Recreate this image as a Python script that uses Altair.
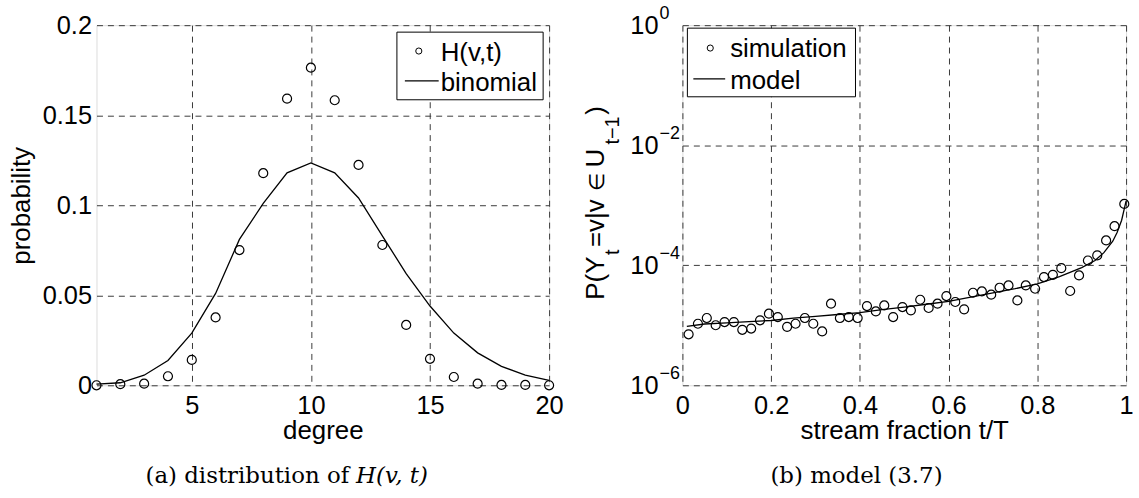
import altair as alt
import pandas as pd

FONT = "Liberation Sans"
SERIF = "DejaVu Serif"

# ---------- panel (a) data ----------
degree = [1, 2, 3, 4, 5, 6, 7, 8, 9, 10, 11, 12, 13, 14, 15, 16, 17, 18, 19, 20]
h_vt = [0.0, 0.0006, 0.0009, 0.0050, 0.0141, 0.0377, 0.0751, 0.1178, 0.1592, 0.1764,
        0.1583, 0.1224, 0.0779, 0.0335, 0.0147, 0.0046, 0.0009, 0.0002, 0.0002, 0.0]
binomial = [0.0006, 0.0014, 0.0056, 0.0138, 0.0290, 0.0510, 0.0810, 0.1010, 0.1180, 0.1235,
            0.1180, 0.1040, 0.0830, 0.0620, 0.0440, 0.0290, 0.0180, 0.0105, 0.0056, 0.0027]
a_xticks = [5, 10, 15, 20]
a_yticks = [0, 0.05, 0.1, 0.15, 0.2]
a_legend = ["H(v,t)", "binomial"]
a_caption = ["(a) distribution of", "H(v, t)"]

# ---------- panel (b) data ----------
sim_x = [0.014, 0.035, 0.055, 0.075, 0.095, 0.116, 0.135, 0.155, 0.175, 0.195,
         0.215, 0.236, 0.255, 0.276, 0.295, 0.315, 0.335, 0.355, 0.375, 0.395,
         0.416, 0.436, 0.455, 0.475, 0.496, 0.515, 0.536, 0.555, 0.575, 0.595,
         0.615, 0.635, 0.655, 0.675, 0.696, 0.715, 0.735, 0.755, 0.774, 0.795,
         0.815, 0.835, 0.854, 0.874, 0.894, 0.914, 0.935, 0.955, 0.974, 0.996]
sim_y = [7.06e-6, 1.06e-5, 1.32e-5, 1.00e-5, 1.13e-5, 1.13e-5, 8.4e-6, 8.8e-6, 1.21e-5, 1.56e-5,
         1.37e-5, 9.4e-6, 1.06e-5, 1.32e-5, 1.06e-5, 7.9e-6, 2.29e-5, 1.32e-5, 1.37e-5, 1.32e-5,
         2.09e-5, 1.70e-5, 2.14e-5, 1.37e-5, 2.01e-5, 1.77e-5, 2.66e-5, 1.94e-5, 2.29e-5, 3.06e-5,
         2.44e-5, 1.84e-5, 3.48e-5, 3.66e-5, 3.23e-5, 4.22e-5, 4.61e-5, 2.59e-5, 4.61e-5, 4.06e-5,
         6.35e-5, 6.93e-5, 8.95e-5, 3.72e-5, 6.76e-5, 1.20e-4, 1.46e-4, 2.59e-4, 4.48e-4, 1.05e-3]
model_x = [0.01, 0.05, 0.1, 0.15, 0.2, 0.25, 0.3, 0.35, 0.4, 0.45, 0.5, 0.55, 0.6,
           0.65, 0.7, 0.75, 0.8, 0.85, 0.9, 0.93, 0.95, 0.97, 0.98, 0.99, 1.0]
model_y = [9.55e-6, 1.05e-5, 1.10e-5, 1.15e-5, 1.20e-5, 1.32e-5, 1.41e-5, 1.51e-5, 1.62e-5,
           1.82e-5, 2.00e-5, 2.24e-5, 2.51e-5, 2.95e-5, 3.47e-5, 4.07e-5, 4.90e-5, 6.46e-5,
           9.12e-5, 1.20e-4, 1.62e-4, 2.51e-4, 3.55e-4, 5.62e-4, 1.17e-3]
b_xticks = [0, 0.2, 0.4, 0.6, 0.8, 1]
b_yticks = [1, 1e-2, 1e-4, 1e-6]
b_yexp = ["0", "\u22122", "\u22124", "\u22126"]
b_legend = ["simulation", "model"]
b_caption = "(b) model (3.7)"
# pieces of the y title P(Y_t = v | v ∈ U_{t-1}) : main text and lowered subscripts
b_ytitle = ["P(Y", "t", "=v|v", "\u2208", "U", "t\u22121", ")"]

W_A, H_A = 455, 362
W_B, H_B = 446, 362

one = pd.DataFrame({"k": [0]})

grid = dict(grid=True, gridDash=[6, 5], gridColor="#3a3a3a", gridWidth=1, gridOpacity=1,
            domain=False, ticks=False, tickSize=0, labelFont=FONT, labelFontSize=25.5,
            labelColor="black", labelFlush=False, labelOverlap=False, titleFont=FONT,
            titleFontSize=26, titleFontWeight="normal", titleColor="black")

# ---------- panel (a) ----------
df_a = pd.DataFrame({"degree": degree, "H": h_vt, "binomial": binomial})
x_axis_a = alt.Axis(values=a_xticks, format="d", title="degree", labelPadding=8,
                    titleY=54, titleBaseline="alphabetic", **grid)
y_axis_a = alt.Axis(values=a_yticks, format="~g", title="probability", labelPadding=5,
                    titleX=-67, titleBaseline="alphabetic", **grid)
xs_a = alt.Scale(domain=[1, 20], nice=False, zero=False)
ys_a = alt.Scale(domain=[0, 0.2], nice=False, zero=False)

line_a = alt.Chart(df_a).mark_line(color="black", strokeWidth=1.3).encode(
    x=alt.X("degree:Q", scale=xs_a, axis=x_axis_a),
    y=alt.Y("binomial:Q", scale=ys_a, axis=y_axis_a))
pts_a = alt.Chart(df_a).mark_point(shape="circle", filled=False, color="black", size=82,
                                   strokeWidth=1.2, opacity=1).encode(
    x=alt.X("degree:Q", scale=xs_a, axis=x_axis_a),
    y=alt.Y("H:Q", scale=ys_a, axis=y_axis_a))


def legend(x0, x1, y0, y1, cx, cy, lx0, lx1, ly, tx, ty1, ty2, labels):
    box = alt.Chart(one).mark_rect(fill="white", stroke="black", strokeWidth=1).encode(
        x=alt.value(x0), x2=alt.value(x1), y=alt.value(y0), y2=alt.value(y1))
    sym = alt.Chart(one).mark_point(shape="circle", filled=False, color="black", size=38,
                                    strokeWidth=1, opacity=1).encode(
        x=alt.value(cx), y=alt.value(cy))
    ln = alt.Chart(one).mark_rule(color="black", strokeWidth=1.2).encode(
        x=alt.value(lx0), x2=alt.value(lx1), y=alt.value(ly))
    t1 = alt.Chart(one).mark_text(align="left", baseline="alphabetic", font=FONT,
                                  fontSize=26, color="black").encode(
        x=alt.value(tx), y=alt.value(ty1), text=alt.value(labels[0]))
    t2 = alt.Chart(one).mark_text(align="left", baseline="alphabetic", font=FONT,
                                  fontSize=26, color="black").encode(
        x=alt.value(tx), y=alt.value(ty2), text=alt.value(labels[1]))
    return [box, sym, ln, t1, t2]


leg_a = legend(302, 449, 7, 75, 324, 26, 310, 344, 56, 346, 36.5, 66.5, a_legend)

cap_a1 = alt.Chart(one).mark_text(align="right", baseline="alphabetic", font=SERIF,
                                  fontSize=23, color="black").encode(
    x=alt.value(254), y=alt.value(460), text=alt.value(a_caption[0]))
cap_a2 = alt.Chart(one).mark_text(align="left", baseline="alphabetic", font=SERIF,
                                  fontSize=23, fontStyle="italic", color="black").encode(
    x=alt.value(261), y=alt.value(460), text=alt.value(a_caption[1]))

panel_a = alt.layer(line_a, pts_a, *leg_a, cap_a1, cap_a2).properties(width=W_A, height=H_A)

# ---------- panel (b) ----------
df_sim = pd.DataFrame({"t": sim_x, "p": sim_y})
df_model = pd.DataFrame({"t": model_x, "p": model_y})
df_yt = pd.DataFrame({"p": b_yticks, "exp": b_yexp})

xs_b = alt.Scale(domain=[0, 1], nice=False, zero=False)
ys_b = alt.Scale(type="log", domain=[1e-6, 1], nice=False)
x_axis_b = alt.Axis(values=b_xticks, format=".1~f", title="stream fraction t/T",
                    labelPadding=8, titleY=54, titleBaseline="alphabetic", **grid)
y_axis_b = alt.Axis(values=b_yticks, labels=False, title=None, **grid)

line_b = alt.Chart(df_model).mark_line(color="black", strokeWidth=1.3).encode(
    x=alt.X("t:Q", scale=xs_b, axis=x_axis_b),
    y=alt.Y("p:Q", scale=ys_b, axis=y_axis_b))
pts_b = alt.Chart(df_sim).mark_point(shape="circle", filled=False, color="black", size=82,
                                     strokeWidth=1.2, opacity=1).encode(
    x=alt.X("t:Q", scale=xs_b, axis=x_axis_b),
    y=alt.Y("p:Q", scale=ys_b, axis=y_axis_b))
ten_b = alt.Chart(df_yt).mark_text(align="right", baseline="middle", font=FONT, fontSize=25.5,
                                   color="black", dy=1).encode(
    x=alt.value(-24), y=alt.Y("p:Q", scale=ys_b, axis=y_axis_b), text=alt.value("10"))
exp_b = alt.Chart(df_yt).mark_text(align="left", baseline="middle", font=FONT, fontSize=18,
                                   color="black", dy=-11).encode(
    x=alt.value(-23), y=alt.Y("p:Q", scale=ys_b, axis=y_axis_b), text="exp:N")

title_pieces = []
piece_pos = [(-79, 276, 26), (-64, 231, 20), (-79, 223, 26), (-79, 167, 21),
             (-79, 143, 26), (-64, 120, 20), (-79, 90, 26)]
for txt, (px, py, fs) in zip(b_ytitle, piece_pos):
    title_pieces.append(
        alt.Chart(one).mark_text(align="left", baseline="alphabetic", angle=270, font=FONT,
                                 fontSize=fs, color="black").encode(
            x=alt.value(px), y=alt.value(py), text=alt.value(txt)))

leg_b = legend(5, 174, 3, 72, 28, 23, 11, 43, 54, 48, 32, 64, b_legend)

cap_b = alt.Chart(one).mark_text(align="center", baseline="alphabetic", font=SERIF,
                                 fontSize=23, color="black").encode(
    x=alt.value(175), y=alt.value(460), text=alt.value(b_caption))

panel_b = alt.layer(line_b, pts_b, ten_b, exp_b, *title_pieces, *leg_b, cap_b).properties(
    width=W_B, height=H_B)

chart = alt.hconcat(panel_a, panel_b, spacing=134, bounds="flush").properties(
    padding={"left": 8, "top": 3, "right": 5, "bottom": 5}
).configure_view(stroke="black", strokeWidth=1.5).configure(font=FONT, background="white")

chart.save("out.html", embed_options={"renderer": "svg", "actions": False})
